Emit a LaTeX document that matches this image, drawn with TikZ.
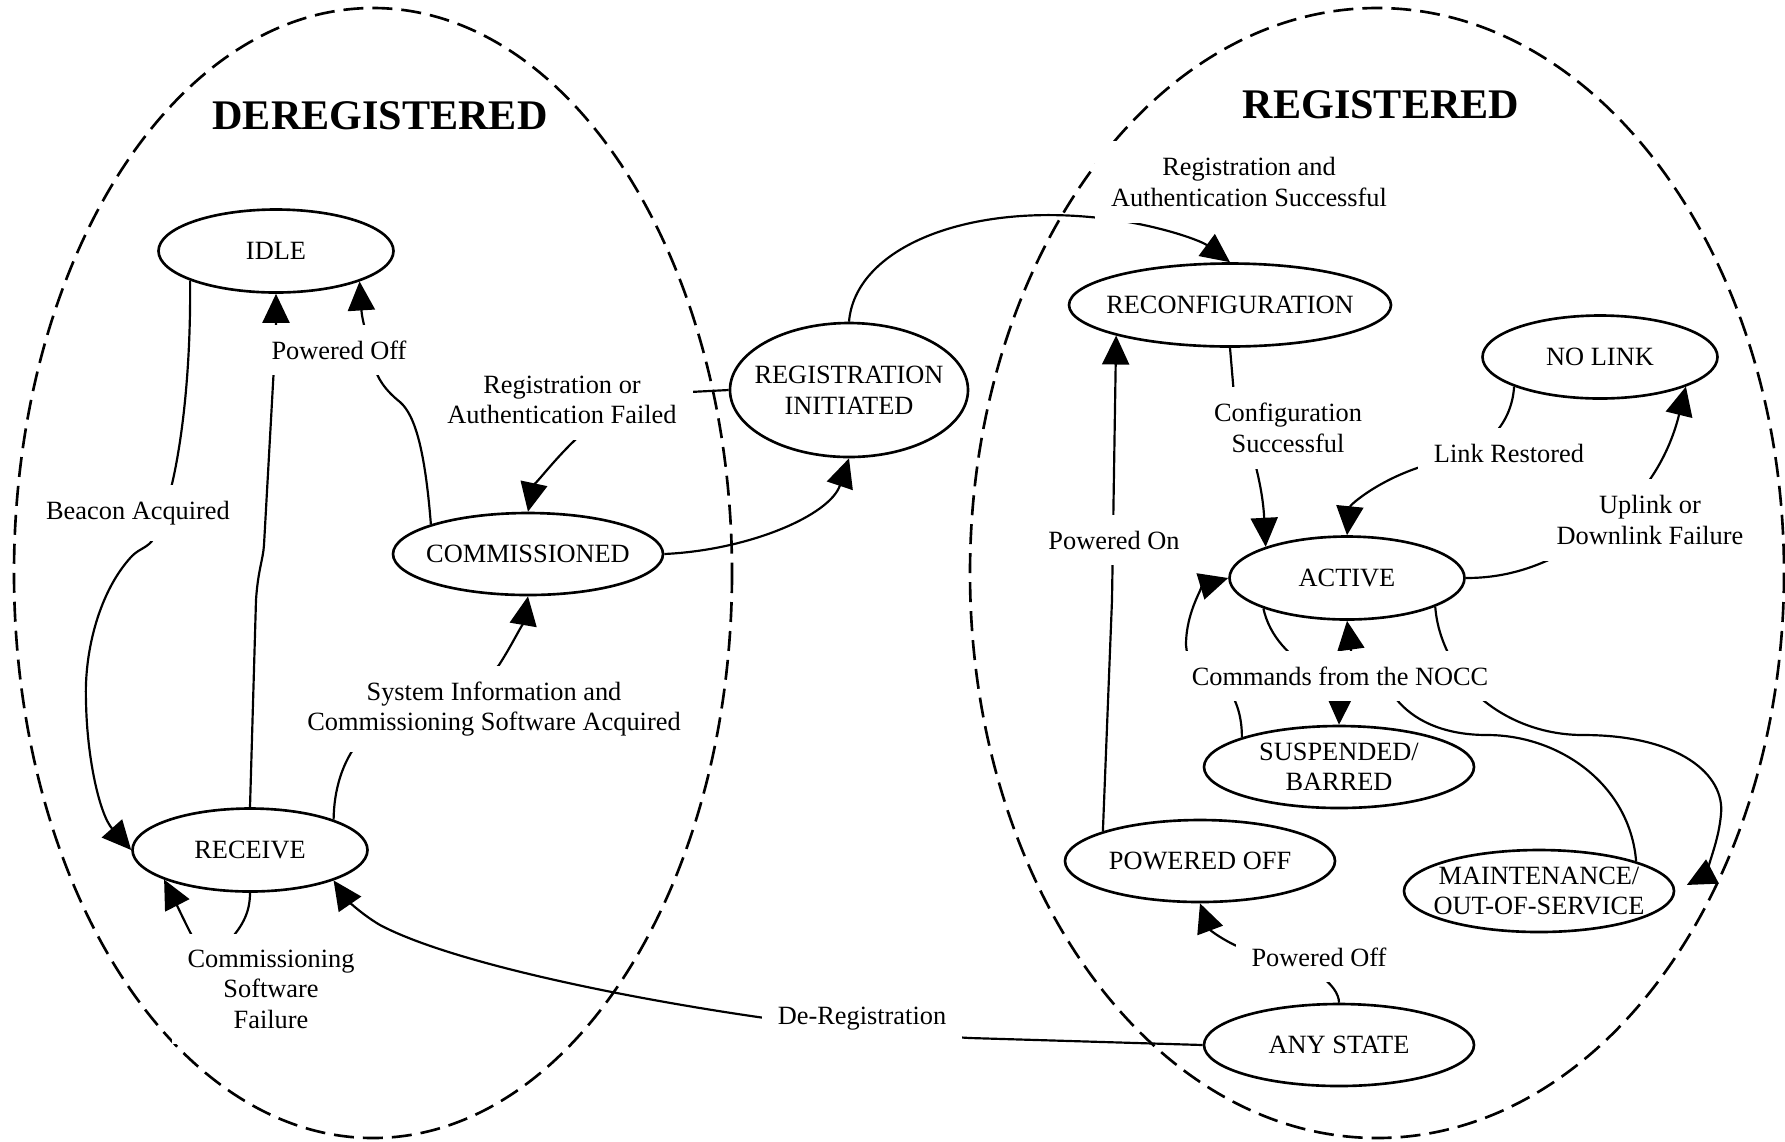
\documentclass[tikz,border=0pt]{standalone}
\usepackage{fontspec}
\setmainfont{Liberation Serif}
\usetikzlibrary{arrows.meta,shapes.geometric}

\begin{document}
\begin{tikzpicture}[x=0.1mm,y=-0.1mm,->,>={Triangle[length=2.9mm,width=2.7mm]},line width=0.62pt,
  state node/.style={ellipse,draw,line width=0.75pt,align=center,inner xsep=-3mm,inner ysep=-0.3mm,
    minimum width=23.5mm,minimum height=8.3mm,font=\fontsize{7.5}{8.7}\selectfont},
  wide node/.style={state node,minimum width=27mm,minimum height=8.2mm},
  label node/.style={fill=white,inner sep=1.6mm,align=center,font=\fontsize{7.5}{8.7}\selectfont},
  title node/.style={font=\fontsize{12}{14}\selectfont\bfseries},
  region/.style={-,line width=0.75pt,dash pattern=on 2mm off 0.9mm}]

  \useasboundingbox (0,0) rectangle (1785,1141);

  \draw[region] (373,573) ellipse [x radius=359,y radius=565];
  \draw[region] (1377,573) ellipse [x radius=407,y radius=565];

  \node[title node] (dereg) at (380,116) {DEREGISTERED};
  \node[title node] (reg) at (1381,105) {REGISTERED};

  \node[state node] (idle) at (276,251) {IDLE};
  \node[state node] (receive) at (250,850) {RECEIVE};
  \node[wide node] (comm) at (528,554) {COMMISSIONED};
  \node[state node,minimum width=23.8mm,minimum height=13.4mm] (reginit) at (849,390) {REGISTRATION\\INITIATED};
  \node[state node,minimum width=32.2mm] (reconf) at (1230,305) {RECONFIGURATION};
  \node[state node] (nolink) at (1600,357) {NO LINK};
  \node[state node] (active) at (1347,578) {ACTIVE};
  \node[wide node] (susp) at (1339,767) {SUSPENDED/\\BARRED};
  \node[wide node] (powoff) at (1200,861) {POWERED OFF};
  \node[wide node] (maint) at (1539,891) {MAINTENANCE/\\OUT-OF-SERVICE};
  \node[wide node] (any) at (1339,1045) {ANY STATE};

  \draw (idle.199) .. controls (191,380) and (180,450) .. (172,484) -- (154,538)
    .. controls (148,548) and (140,548) .. (132,556) .. controls (100,590) and (84,650) .. (86,701)
    .. controls (87,760) and (100,815) .. (receive.west);
  \draw (receive.north) -- (256,600) .. controls (258,570) and (263,560) .. (264,545) -- (276,330) -- (idle.south);
  \draw (comm.163) .. controls (425,450) and (415,415) .. (400,402) .. controls (385,390) and (377,378) .. (374,365)
    .. controls (368,340) and (362,320) .. (idle.-20);
  \draw (reginit.west) -- (690,392) .. controls (630,398) and (595,420) .. (575,440)
    .. controls (552,462) and (533,488) .. (comm.north);
  \draw (comm.east) .. controls (750,550) and (830,515) .. (reginit.south);
  \draw (reginit.north) .. controls (855,250) and (960,205) .. (1090,217) .. controls (1150,222) and (1200,240) .. (reconf.north);
  \draw (powoff.163) -- (1112,600) -- (reconf.195);
  \draw (reconf.south) -- (1234,395) .. controls (1245,430) and (1262,475) .. (active.159);
  \draw (nolink.199) .. controls (1512,420) and (1490,455) .. (1430,464) .. controls (1380,478) and (1350,505) .. (active.north);
  \draw (active.east) .. controls (1510,578) and (1550,565) .. (1600,530) .. controls (1640,502) and (1668,460) .. (nolink.-19);
  \draw (active.200) .. controls (1269,635) and (1290,660) .. (1320,672) .. controls (1338,680) and (1340,690) .. (susp.north);
  \draw (susp.163) .. controls (1242,720) and (1238,700) .. (1225,685) .. controls (1200,670) and (1186,660) .. (1186,645)
    .. controls (1186,610) and (1205,585) .. (active.west);
  \draw (maint.17) .. controls (1630,785) and (1560,735) .. (1487,735) .. controls (1440,735) and (1412,718) .. (1397,700)
    .. controls (1375,680) and (1351,672) .. (1351,650) -- (active.south);
  \draw[shorten >=1.3mm] (active.-18) .. controls (1437,630) and (1445,650) .. (1460,675) .. controls (1480,705) and (1525,735) .. (1583,735)
    .. controls (1680,735) and (1725,775) .. (1721,814) .. controls (1718,850) and (1700,878) .. (maint.east);
  \draw (any.north) .. controls (1339,985) and (1310,962) .. (1265,955) .. controls (1235,950) and (1210,930) .. (powoff.south);
  \draw (any.west) -- (970,1038) .. controls (900,1034) and (820,1026) .. (758,1017) .. controls (620,997) and (450,962) .. (380,925)
    .. controls (358,912) and (345,897) .. (receive.-20);
  \draw (receive.20) .. controls (334,790) and (342,762) .. (360,740) .. controls (400,700) and (480,690) .. (499,665)
    .. controls (512,645) and (524,620) .. (comm.south);
  \draw (receive.south) .. controls (250,912) and (243,925) .. (230,940) .. controls (215,955) and (198,948) .. (190,932)
    .. controls (180,912) and (172,895) .. (receive.199);

  \node[label node] (lpowoff) at (339,350) {Powered Off};
  \node[label node] (lfailed) at (562,400) {Registration or\\Authentication Failed};
  \node[label node] (lbeacon) at (138,513) {Beacon Acquired};
  \node[label node] (lsysinfo) at (494,709) {System Information and\\Commissioning Software Acquired};
  \node[label node] (lswfail) at (271,989) {Commissioning\\Software\\Failure};
  \node[label node] (lderegs) at (862,1019) {De-Registration};
  \node[label node] (lsuccess) at (1249,182) {Registration and\\Authentication Successful};
  \node[label node] (lpowon) at (1114,540) {Powered On};
  \node[label node] (lconfig) at (1288,428) {Configuration\\Successful};
  \node[label node] (lrestored) at (1509,453) {Link Restored};
  \node[label node] (lfailure) at (1650,520) {Uplink or\\Downlink Failure};
  \node[label node] (lnocc) at (1340,676) {Commands from the NOCC};
  \node[label node] (lpowoff2) at (1319,957) {Powered Off};
\end{tikzpicture}
\end{document}
